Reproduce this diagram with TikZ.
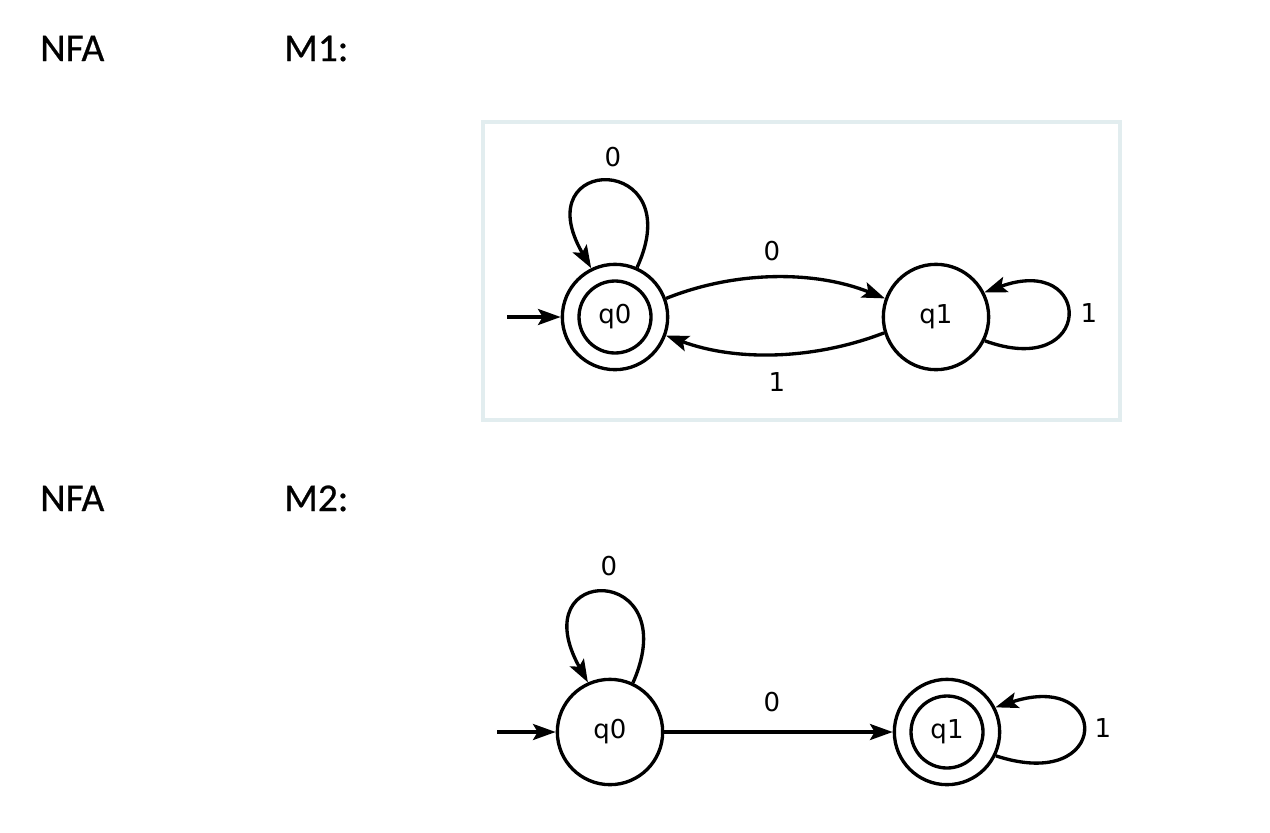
\documentclass[tikz,border=0pt]{standalone}
\usepackage{fontspec}
\usetikzlibrary{arrows.meta}
\newfontfamily\headfont[FakeBold=0.6]{Carlito}
\newfontfamily\diafont{DejaVu Sans}
\definecolor{boxline}{RGB}{226,237,239}
\begin{document}
\begin{tikzpicture}[x=0.75pt,y=-0.75pt,
  state/.style={circle,draw,line width=2.5pt,minimum size=79pt,inner sep=0pt,font=\diafont\fontsize{19.5}{23}\selectfont},
  inner/.style={circle,draw,line width=2.5pt,minimum size=54pt,inner sep=0pt},
  edge/.style={line width=2.5pt,-{Stealth[length=17pt,width=12pt,inset=3.5pt]}},
  lab/.style={font=\diafont\fontsize{19.5}{23}\selectfont,inner sep=1pt},
  head/.style={font=\headfont\fontsize{29.5}{34}\selectfont,anchor=base west,inner sep=0pt}]
\useasboundingbox[fill=white] (0,0) rectangle (1270,832);

% headings
\node[head] (h1) at (40,61) {NFA};
\node[head] (h2) at (284,61) {M1:};
\node[head] (h3) at (40,511) {NFA};
\node[head] (h4) at (284,511) {M2:};

% M1 frame
\draw[boxline,line width=3pt] (483,122) rectangle (1120,420);

% M1
\node[state] (a0) at (615,317) {q0};
\node[inner] (a0i) at (615,317) {};
\node[state] (a1) at (936,317) {q1};
\coordinate (a0s) at (507,317);
\draw[edge] (a0s) -- (a0.west);
\draw[edge] (a0.66) .. controls +(53,-115) and +(-67,-115) .. (a0.116);
\node[lab] (la0) at (613,157) {0};
\draw[edge] (a0.20) .. controls +(70,-28) and +(-70,-28) .. (a1.160);
\node[lab] (la01) at (772,251) {0};
\draw[edge] (a1.197) .. controls +(-70,27) and +(70,26) .. (a0.340);
\node[lab] (la10) at (777,382) {1};
\draw[edge] (a1.-26) .. controls +(110,40) and +(110,-40) .. (a1.27);
\node[lab] (la1) at (1089,313) {1};

% M2
\node[state] (b0) at (610,732) {q0};
\node[state] (b1) at (947,732) {q1};
\node[inner] (b1i) at (947,732) {};
\coordinate (b0s) at (497,732);
\draw[edge] (b0s) -- (b0.west);
\draw[edge] (b0.65) .. controls +(53,-120) and +(-67,-120) .. (b0.114);
\node[lab] (lb0) at (609,566) {0};
\draw[edge] (b0.east) -- (b1.west);
\node[lab] (lb01) at (772,702) {0};
\draw[edge] (b1.-26) .. controls +(116,38) and +(116,-38) .. (b1.27);
\node[lab] (lb1) at (1103,728) {1};
\end{tikzpicture}
\end{document}
